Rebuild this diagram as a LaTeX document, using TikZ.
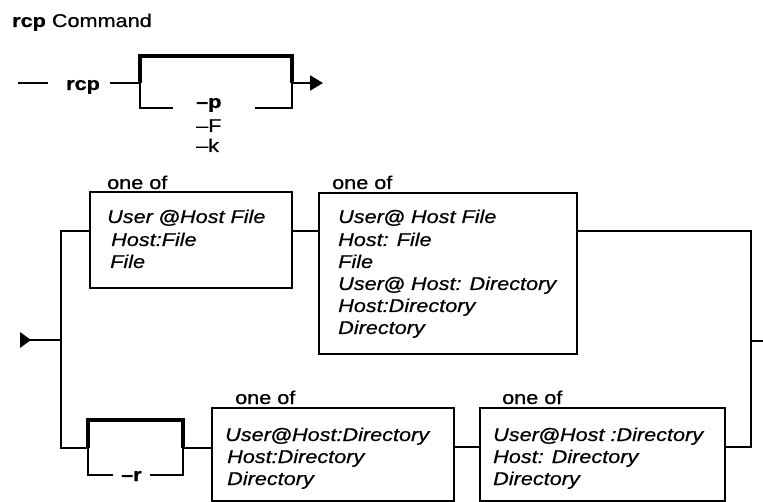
\documentclass[tikz,border=0pt]{standalone}
\usepackage{fontspec}
\setmainfont[FakeStretch=1.17,FakeBold=0.6]{Liberation Sans}
\usetikzlibrary{arrows.meta}
\newcommand{\At}{{\upshape\bfseries @}}
\begin{document}
\begin{tikzpicture}[x=1pt,y=-1pt,
  every node/.style={font=\fontsize{18.5}{22}\selectfont},
  conn/.style={line width=1.9pt},
  thickpath/.style={line width=3.8pt},
  thinpath/.style={line width=2.5pt},
  box/.style={draw, line width=1.9pt, inner sep=0pt, anchor=north west},
  txt/.style={inner sep=0pt, anchor=base west, font=\fontsize{18.5}{22}\selectfont\itshape},
  lbl/.style={inner sep=0pt, anchor=base west}]
\useasboundingbox (0,0) rectangle (763,502);

% title
\node[lbl] (title) at (12,27) {\textbf{rcp} Command};

% first line
\coordinate (s0) at (18,83);
\coordinate (s1) at (48,83);
\draw[conn] (s0) -- (s1);
\node[lbl] (rcp) at (66,90) {\textbf{rcp}};
\coordinate (r0) at (110,83);
\coordinate (bl) at (140,83);
\coordinate (blt) at (140,56);
\coordinate (brt) at (292,56);
\coordinate (br) at (292,83);
\coordinate (blb) at (140,108);
\coordinate (bgl) at (173,108);
\coordinate (bgr) at (255,108);
\coordinate (brb) at (292,108);
\coordinate (arr) at (323,83);
\draw[conn] (r0) -- (bl);
\draw[thickpath, line join=miter] (bl) -- (blt) -- (brt) -- (br);
\draw[thinpath] (bl) -- (blb) -- (bgl);
\draw[thinpath] (bgr) -- (brb) -- (br);
\draw[conn, -{Triangle[length=13pt,width=15pt]}] (br) -- (arr);
\node[lbl] (optp) at (196,108) {\textbf{--p}};
\node[lbl] (optF) at (196,132) {--F};
\node[lbl] (optk) at (196,152) {--k};

% second part
\fill (20,332) -- (31,340) -- (20,348) -- cycle;
\coordinate (e0) at (30,340);
\coordinate (jm) at (61,340);
\coordinate (jt) at (61,231);
\coordinate (jb) at (61,448);
\coordinate (rt) at (751,231);
\coordinate (rm) at (751,341);
\coordinate (rb) at (751,447);
\coordinate (ex) at (763,341);

\node[box, minimum width=202pt, minimum height=96pt] (b1) at (89,191) {};
\node[box, minimum width=258pt, minimum height=161pt] (b2) at (318,192) {};
\node[box, minimum width=242pt, minimum height=93pt] (b3) at (211,407) {};
\node[box, minimum width=245pt, minimum height=93pt] (b4) at (479,407) {};

\node[lbl] (o1) at (107,189) {one of};
\node[lbl] (o2) at (332,189) {one of};
\node[lbl] (o3) at (235,404) {one of};
\node[lbl] (o4) at (502,404) {one of};

\node[txt] (t11) at (107,223) {User \At Host File};
\node[txt] (t12) at (111,246) {Host:File};
\node[txt] (t13) at (110,268) {File};

\node[txt] (t21) at (338,223) {User\At\ Host File};
\node[txt] (t22) at (338,246) {Host: File};
\node[txt] (t23) at (338,268) {File};
\node[txt] (t24) at (338,290) {User\At\ Host: Directory};
\node[txt] (t25) at (338,312) {Host:Directory};
\node[txt] (t26) at (338,334) {Directory};

\node[txt] (t31) at (225,441) {User\At Host:Directory};
\node[txt] (t32) at (227,463) {Host:Directory};
\node[txt] (t33) at (227,485) {Directory};

\node[txt] (t41) at (493,441) {User\At Host :Directory};
\node[txt] (t42) at (493,463) {Host: Directory};
\node[txt] (t43) at (493,485) {Directory};

\draw[conn] (e0) -- (jm);
\draw[conn] (jt -| b1.west) -- (jt) -- (jb) -- (88,448);
\draw[conn] (b1.east |- jt) -- (b2.west |- jt);
\draw[conn] (b2.east |- jt) -- (rt) -- (rb) -- (rb -| b4.east);
\draw[conn] (rm) -- (ex);

% -r bracket
\coordinate (ql) at (88,448);
\coordinate (qlt) at (88,420);
\coordinate (qrt) at (183,420);
\coordinate (qr) at (183,448);
\coordinate (qlb) at (88,475);
\coordinate (qgl) at (113,475);
\coordinate (qgr) at (150,475);
\coordinate (qrb) at (183,475);
\draw[thickpath, line join=miter] (ql) -- (qlt) -- (qrt) -- (qr);
\draw[thinpath] (ql) -- (qlb) -- (qgl);
\draw[thinpath] (qgr) -- (qrb) -- (qr);
\node[lbl] (optr) at (121,481) {\textbf{--r}};
\draw[conn] (qr) -- (qr -| b3.west);
\draw[conn] (b3.east |- rb) -- (b4.west |- rb);
\end{tikzpicture}
\end{document}
